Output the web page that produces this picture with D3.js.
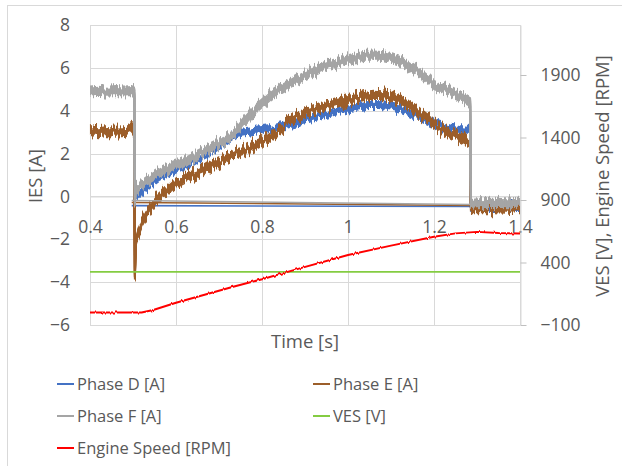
<!DOCTYPE html>
<html><head><meta charset="utf-8">
<script src="https://cdn.jsdelivr.net/npm/d3@7"></script>
<style>
html,body{margin:0;padding:0;background:#fff;}
svg text{font-family:"Open Sans",sans-serif;fill:#595959;}
</style></head><body>
<svg id="chart" width="622" height="466"></svg>
<script>
// Phase currents sampled along the run (seconds / amperes); null = no sample
const time   = [0.400,0.420,0.440,0.460,0.480,0.497,0.503,0.5045,0.506,0.509,0.513,0.520,0.530,0.540,0.560,0.580,0.600,0.620,0.640,0.660,0.680,0.700,0.720,0.740,0.760,0.780,0.800,0.820,0.840,0.860,0.880,0.900,0.920,0.940,0.960,0.980,1.000,1.020,1.040,1.060,1.080,1.100,1.120,1.140,1.160,1.180,1.200,1.220,1.240,1.260,1.284,1.286,1.300,1.340,1.370,1.400];
const phaseD = [null,null,null,null,null,null,null,0.10,-0.05,0.00,0.10,0.25,0.40,0.55,0.85,1.05,1.25,1.45,1.65,1.90,2.10,2.35,2.60,2.90,3.00,3.05,3.10,3.15,3.25,3.35,3.45,3.55,3.68,3.80,3.90,4.00,4.10,4.18,4.25,4.28,4.26,4.20,4.10,3.95,3.78,3.58,3.40,3.26,3.16,3.10,3.05,-0.45,-0.45,-0.45,-0.45,-0.45];
const phaseE = [3.05,3.00,3.05,3.02,3.05,3.25,3.00,-3.70,-2.20,-1.90,-1.60,-1.20,-0.85,-0.55,-0.05,0.30,0.65,0.85,1.00,1.15,1.40,1.60,1.80,2.00,2.15,2.35,2.55,2.85,3.15,3.45,3.70,3.88,4.02,4.15,4.28,4.40,4.50,4.60,4.70,4.75,4.72,4.66,4.50,4.28,3.98,3.67,3.38,3.15,2.95,2.75,2.50,-0.55,-0.55,-0.55,-0.58,-0.55];
const phaseF = [4.90,4.93,4.88,4.92,4.90,4.92,4.85,-0.30,0.30,0.50,0.40,0.55,0.70,0.85,1.10,1.30,1.45,1.65,1.85,2.05,2.25,2.45,2.70,3.05,3.55,4.00,4.35,4.70,4.98,5.22,5.45,5.65,5.83,6.00,6.15,6.28,6.40,6.50,6.56,6.58,6.55,6.46,6.33,6.15,5.88,5.55,5.20,5.03,4.88,4.68,4.40,-0.35,-0.32,-0.30,-0.32,-0.30];

// Straight connectors drawn by each phase series across the run
const linkTime = [0.497, 1.286];
const linkD = [-0.43, -0.47];
const linkE = [-0.28, -0.42];
const linkF = [-0.19, -0.38];

// Supply voltage and engine speed (right axis)
const vesTime = [0.4, 1.4];
const ves = [325, 325];
const rpmTime = [0.400,0.500,0.520,0.547,0.578,0.600,0.656,0.733,0.800,0.888,1.000,1.100,1.200,1.250,1.300,1.350,1.400];
const engineSpeed = [0,0,0,20,54,78,132,206,266,353,460,535,606,633,645,636,632];

// Axis ticks
const xTicks = [0.4,0.6,0.8,1,1.2,1.4];
const yLeftTicks = [-6,-4,-2,0,2,4,6,8];
const yRightTicks = [-100,400,900,1400,1900];

const seriesNames = ["Phase D [A]","Phase E [A]","Phase F [A]","VES [V]","Engine Speed [RPM]"];
const seriesColors = ["#4472C4","#9C5E2A","#A5A5A5","#84CC42","#FF0000"];

const svg = d3.select("#chart");
const L = 90, R = 520, T = 25, B = 325;
const x = d3.scaleLinear().domain([0.4,1.4]).range([L,R]);
const yL = d3.scaleLinear().domain([-6,8]).range([B,T]);
const yR = d3.scaleLinear().domain([-100,2300]).range([B,T]);
const px = v => Math.round(v) + 0.5;

// outer chart frame
svg.append("rect").attr("x",7.5).attr("y",5.5).attr("width",640).attr("height",480)
  .attr("fill","none").attr("stroke","#d9d9d9");

// sensor-noise texture for the sampled traces: jitter each pixel column in y
const defs = svg.append("defs");
function jitter(id, scale, freq, seed){
  const f = defs.append("filter").attr("id",id).attr("filterUnits","userSpaceOnUse")
    .attr("x",0).attr("y",0).attr("width",622).attr("height",466)
    .attr("color-interpolation-filters","sRGB");
  f.append("feTurbulence").attr("type","fractalNoise").attr("baseFrequency",`${freq} 0.02`)
    .attr("numOctaves",2).attr("seed",seed).attr("result","n");
  f.append("feColorMatrix").attr("in","n").attr("type","matrix")
    .attr("values","0 0 0 0 0.5  0 1 0 0 0  0 0 0 0 0  0 0 0 0 1").attr("result","m");
  f.append("feDisplacementMap").attr("in","SourceGraphic").attr("in2","m")
    .attr("scale",scale).attr("xChannelSelector","R").attr("yChannelSelector","G");
}
jitter("jD",12,0.45,2); jitter("jE",18,0.45,5); jitter("jF",16,0.45,8); jitter("jR",3,0.6,11);

// gridlines
const grid = svg.append("g").attr("stroke","#d9d9d9").attr("stroke-width",1);
yLeftTicks.forEach(v => grid.append("line").attr("x1",L).attr("x2",R).attr("y1",px(yL(v))).attr("y2",px(yL(v))));
xTicks.forEach(v => grid.append("line").attr("y1",T).attr("y2",B).attr("x1",px(x(v))).attr("x2",px(x(v))));

// axes
const fmt = d3.format("");
const xAxis = svg.append("g").attr("transform",`translate(0,${px(yL(0))})`)
  .call(d3.axisBottom(x).tickValues(xTicks).tickSize(0).tickPadding(24).tickFormat(fmt));
xAxis.select(".domain").attr("stroke","#d9d9d9");
const yAxisL = svg.append("g").attr("transform",`translate(${L},0)`)
  .call(d3.axisLeft(yL).tickValues(yLeftTicks).tickSize(0).tickPadding(20).tickFormat(fmt));
yAxisL.select(".domain").remove();
const yAxisR = svg.append("g").attr("transform",`translate(${px(R)},0)`)
  .call(d3.axisRight(yR).tickValues(yRightTicks).tickSize(6).tickSizeOuter(0).tickPadding(14).tickFormat(fmt));
yAxisR.select(".domain").attr("stroke","#d9d9d9");
yAxisR.selectAll(".tick line").attr("stroke","#bfbfbf");
svg.selectAll(".tick text").attr("font-size",17.5).attr("fill","#595959")
  .style("font-family",'"Open Sans",sans-serif');

// axis titles
svg.append("text").attr("transform","translate(42,176) rotate(-90)").attr("text-anchor","middle")
  .attr("font-size",18.5).text("IES [A]");
svg.append("text").attr("transform","translate(609,176) rotate(-90)").attr("text-anchor","middle")
  .attr("font-size",18.5).text("VES [V], Engine Speed [RPM]");
svg.append("text").attr("x",305).attr("y",348).attr("text-anchor","middle")
  .attr("font-size",18.5).text("Time [s]");

// series
const lineL = d3.line().defined(d => d[1] != null).x(d => x(d[0])).y(d => yL(d[1]));
const lineR = d3.line().x(d => x(d[0])).y(d => yR(d[1]));
const plot = svg.append("g").attr("fill","none").attr("stroke-linejoin","round");

// each phase trace is stacked a few pixels deep vertically so the jitter reads as a dense band
const phases = [[phaseD, linkD, "jD", 3], [phaseE, linkE, "jE", 4], [phaseF, linkF, "jF", 4]];
phases.forEach(([vals, link, fid, spread], i) => {
  plot.append("path").attr("d", lineL(d3.zip(linkTime, link)))
    .attr("stroke", seriesColors[i]).attr("stroke-width", 1.6);
  const band = plot.append("g").attr("filter", `url(#${fid})`);
  const d = lineL(d3.zip(time, vals));
  d3.range(-spread, spread + 0.5, 1).forEach(dy => {
    band.append("path").attr("d", d).attr("transform", `translate(0,${dy})`)
      .attr("stroke", seriesColors[i]).attr("stroke-width", 2);
  });
});
plot.append("path").attr("d", lineR(d3.zip(vesTime, ves)))
  .attr("stroke", seriesColors[3]).attr("stroke-width", 1.8);
plot.append("path").attr("d", lineR(d3.zip(rpmTime, engineSpeed)))
  .attr("stroke", seriesColors[4]).attr("stroke-width", 2).attr("filter","url(#jR)");

// legend
const legendPos = [[57,384],[313,384],[57,416],[313,416],[57,448]];
seriesNames.forEach((name, i) => {
  const [lx, ly] = legendPos[i];
  svg.append("line").attr("x1",lx).attr("x2",lx+17).attr("y1",ly).attr("y2",ly)
    .attr("stroke",seriesColors[i]).attr("stroke-width",2);
  svg.append("text").attr("x",lx+20).attr("y",ly).attr("dy","0.36em")
    .attr("font-size",16.5).text(name);
});
</script>
</body></html>
